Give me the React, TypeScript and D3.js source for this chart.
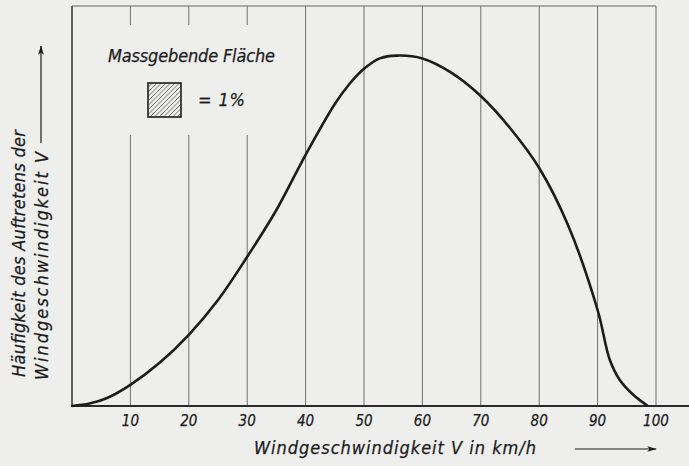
import React from 'react';
import * as d3 from 'd3';

// Windgeschwindigkeit (km/h) and relative frequency
const speeds = [0, 3, 6, 10, 15, 20, 25, 30, 35, 40, 45, 47.5, 50, 52.7, 55.6, 60, 65, 70, 75, 80, 85, 90, 92.1, 93.8, 96.1, 98.6];
const frequency = [0, 0.6, 2.0, 5.3, 10.8, 17.8, 26.5, 37.3, 49, 62.8, 75.5, 80.5, 84.3, 86.9, 87.6, 86.9, 83.3, 77.5, 69.5, 59.5, 45, 24, 11.5, 6.5, 2.8, 0];
const gridTicks = [10, 20, 30, 40, 50, 60, 70, 80, 90, 100];
const legendInterrupted = [10, 20, 30];

const xLabel = 'Windgeschwindigkeit  V  in km/h';
const yLabel1 = 'Häufigkeit des Auftretens der';
const yLabel2 = 'Windgeschwindigkeit V';
const legendTitle = 'Massgebende Fläche';
const legendValue = '= 1%';

const W = 689;
const H = 466;
const left = 72;
const right = 656;
const top = 6;
const bottom = 406;

const font = '"DejaVu Sans Condensed", "Liberation Sans Narrow", "DejaVu Sans", sans-serif';
const ink = '#1c1c1c';

const App: React.FC = () => {
    const x = d3.scaleLinear().domain([0, 100]).range([left, right]);
    const y = d3.scaleLinear().domain([0, 100]).range([bottom, top]);

    const pts: [number, number][] = speeds.map((s, i) => [s, frequency[i]]);
    const line = d3.line<[number, number]>()
        .x(d => x(d[0]))
        .y(d => y(d[1]))
        .curve(d3.curveCatmullRom.alpha(0.5));

    // legend square
    const box = { x: 148, y: 83, w: 33, h: 34 };
    const hatch: string[] = [];
    for (let k = -box.h; k < box.w; k += 4.5) {
        // lines going up to the right
        const x0 = Math.max(box.x, box.x + k);
        const y0 = box.y + box.h - Math.max(0, -k);
        const x1 = Math.min(box.x + box.w, box.x + k + box.h);
        const y1 = box.y + box.h - (x1 - (box.x + k));
        hatch.push(`M${x0},${y0}L${x1},${y1}`);
    }

    const textProps = { fontFamily: font, fontStyle: 'italic', fill: ink, stroke: ink, strokeWidth: 0.25 };

    return (
        <svg width={W} height={H} style={{ position: 'absolute', left: 0, top: 0, display: 'block' }}>
            <defs>
                <marker id="arr" viewBox="0 -5 12 10" refX={11} refY={0} markerWidth={12} markerHeight={8} orient="auto" markerUnits="userSpaceOnUse">
                    <path d="M0,-3.5L12,0L0,3.5L3,0Z" fill={ink} />
                </marker>
            </defs>
            <rect x={0} y={0} width={W} height={H} fill="#eeeeec" />

            {/* grid */}
            {gridTicks.map(t => {
                const gx = x(t);
                if (legendInterrupted.includes(t)) {
                    return (
                        <g key={t}>
                            <line x1={gx} x2={gx} y1={top} y2={25} stroke="#6f6f6f" strokeWidth={1} />
                            <line x1={gx} x2={gx} y1={135} y2={bottom} stroke="#6f6f6f" strokeWidth={1} />
                        </g>
                    );
                }
                return <line key={t} x1={gx} x2={gx} y1={top} y2={bottom} stroke="#6f6f6f" strokeWidth={1} />;
            })}

            {/* frame */}
            <line x1={left} x2={right} y1={top} y2={top} stroke="#666" strokeWidth={1} />
            <line x1={left} x2={left} y1={top} y2={bottom} stroke="#333" strokeWidth={1.5} />
            <line x1={left - 1} x2={W} y1={bottom} y2={bottom} stroke="#2a2a2a" strokeWidth={2.2} />

            {/* curve */}
            <path d={line(pts) ?? ''} fill="none" stroke={ink} strokeWidth={2.6} strokeLinejoin="round" />

            {/* tick labels */}
            {gridTicks.map(t => (
                <text key={t} x={x(t)} y={426} textAnchor="middle" fontSize={15} {...textProps}>
                    {t}
                </text>
            ))}

            {/* legend */}
            <text x={108} y={62} fontSize={18} textLength={167} lengthAdjust="spacing" {...textProps}>
                {legendTitle}
            </text>
            <g>
                {hatch.map((d, i) => <path key={i} d={d} stroke="#555" strokeWidth={0.8} />)}
                <rect x={box.x} y={box.y} width={box.w} height={box.h} fill="none" stroke={ink} strokeWidth={1.6} />
            </g>
            <text x={198} y={106} fontSize={18} textLength={47} lengthAdjust="spacing" {...textProps}>
                {legendValue}
            </text>

            {/* x title */}
            <text x={254} y={454} fontSize={18} textLength={282} lengthAdjust="spacing" {...textProps}>
                {xLabel}
            </text>
            <line x1={575} x2={656} y1={449} y2={449} stroke={ink} strokeWidth={1.2} markerEnd="url(#arr)" />

            {/* y title */}
            <text transform="translate(25,377) rotate(-90)" fontSize={18} textLength={247} lengthAdjust="spacing" {...textProps}>
                {yLabel1}
            </text>
            <text transform="translate(48,380) rotate(-90)" fontSize={18} textLength={228} lengthAdjust="spacing" {...textProps}>
                {yLabel2}
            </text>
            <line x1={41} x2={41} y1={143} y2={46} stroke={ink} strokeWidth={1.2} markerEnd="url(#arr)" />
        </svg>
    );
};

export default App;
